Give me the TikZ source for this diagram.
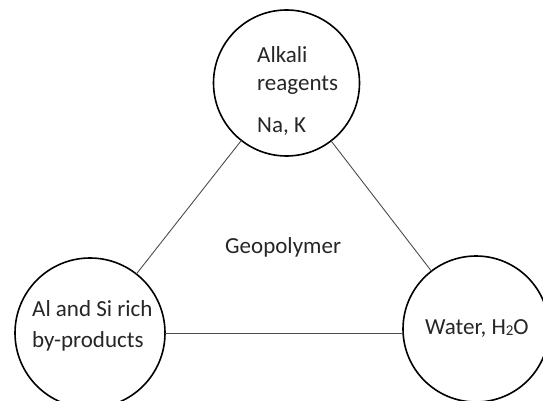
\documentclass[tikz,border=0pt]{standalone}
\usepackage{fontspec}
\setmainfont{Carlito}
\begin{document}
\begin{tikzpicture}[x=1pt,y=-1pt,
  ring/.style={draw=black,line width=1.6pt,circle,inner sep=0pt,outer sep=0pt,minimum size=#1},
  link/.style={draw=black!70,line width=0.9pt},
  txt/.style={anchor=base west,inner sep=0pt,font=\fontsize{23}{28}\selectfont,text=black!85}]
\useasboundingbox (0,0) rectangle (543,401);
\node[ring=146pt] (top) at (286.5,83) {};
\node[ring=150pt] (left) at (90,333) {};
\node[ring=146pt] (right) at (476,329) {};
\draw[link] (top) -- (left);
\draw[link] (top) -- (right);
\draw[link] (left.east) -- (left.east -| right.west);
\node[txt] (t1) at (257,63) {Alkali};
\node[txt] (t2) at (257,91) {reagents};
\node[txt] (t3) at (257,132) {Na, K};
\node[txt] (g) at (225,253) {Geopolymer};
\node[txt] (l1) at (32,316) {Al and Si rich};
\node[txt] (l2) at (32,347) {by-products};
\node[txt] (w) at (425,334) {Water, H\raisebox{-0.15ex}{\fontsize{15}{15}\selectfont 2}O};
\end{tikzpicture}
\end{document}
